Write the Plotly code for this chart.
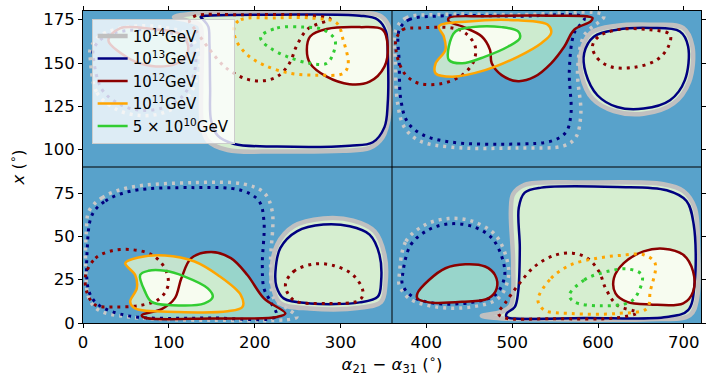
import plotly.graph_objects as go

# ---------------- data (degrees) ----------------
# top-left panel
TL_GRAY_X = [106, 125, 145, 226, 330, 347, 357, 359, 357, 349, 334, 303, 226, 168.5, 145.4, 138.5, 137.7, 138.5, 136, 122]
TL_GRAY_Y = [176.5, 178.3, 178.7, 178.9, 178.9, 177, 170.2, 145.9, 120.7, 107.2, 101, 99.4, 99, 99.8, 105.2, 114.9, 136.2, 165.3, 172, 174.5]
TL_NAVY_X = [145.4, 226, 322.3, 343.5, 353, 355, 355, 351.2, 337.7, 310.8, 226.2, 176.2, 157, 149.2, 148.1, 147.3, 146, 140, 137]
TL_NAVY_Y = [177.3, 177.9, 177.3, 175, 168.2, 155.6, 126.6, 113, 104.3, 102.3, 101.8, 103.3, 108.1, 116.9, 136.2, 161.4, 171, 175, 176.5]
TL_RED_R_X = [260.8, 264.6, 283.9, 322.3, 349.2, 355, 351.2, 333.9, 310.5, 283.9, 264.6]
TL_RED_R_Y = [157.6, 165.3, 169.6, 170.7, 169.2, 159.5, 147.9, 139.2, 137.8, 142.1, 149.8]
TL_RED_L_X = [29.6, 43, 62, 85, 108, 120, 122, 112, 82, 43]
TL_RED_L_Y = [163, 156, 150.5, 148, 149.5, 154, 161, 167, 169.5, 170]
TL_GRAY_DOT_X = [8.5, 16.2, 39.3, 66.2, 93.1, 120, 133.5, 135.4, 123.9, 93.1, 50.8, 20, 8.5]
TL_GRAY_DOT_Y = [152.3, 132.9, 123.2, 119.7, 121.2, 129, 142.6, 154.2, 165.8, 170.7, 170.7, 165.8, 158.1]
TL_NAVY_DOT_X = [12.3, 22, 43.1, 66.2, 93.1, 116.2, 129.6, 130.8, 120, 93.1, 50.8, 23.9, 12.3]
TL_NAVY_DOT_Y = [152.3, 134.8, 126.1, 122.8, 124.2, 130.9, 144.5, 154.2, 163.9, 168.1, 168.7, 164.8, 158.1]
TL_RED_DOT_X = [124, 131.6, 147, 166.2, 189, 210, 227.7, 241, 249, 262, 288, 262, 185, 131.6]
TL_RED_DOT_Y = [174.5, 168.7, 158.1, 147.4, 141, 139.7, 142.6, 150.3, 160, 169.7, 175.5, 177.5, 177.8, 177.3]
TL_ORANGE_DOT_X = [176.2, 183.9, 226, 264.6, 295.4, 303.1, 308.9, 303.1, 272.3, 241.6, 210.8, 191.5, 178.1]
TL_ORANGE_DOT_Y = [171.1, 175, 176, 176, 173.1, 163.4, 148.9, 144, 143, 144, 148.8, 154.7, 163.4]
TL_GREEN_DOT_X = [206.9, 226.2, 256.9, 280, 293.5, 291.6, 283.9, 264.6, 237.7, 218.5, 208.9]
TL_GREEN_DOT_Y = [165.3, 170.2, 170.7, 169.2, 163.4, 155.6, 149.8, 149.8, 153.7, 158.5, 162.4]

# top-right panel
TR_GRAY_DOT_X = [364.6, 376.2, 410.8, 507, 606.9, 584, 576.2, 580, 574.2, 560.8, 507, 430, 391.6, 374.3, 366.6, 363.9]
TR_GRAY_DOT_Y = [169.2, 176, 177.9, 177.9, 177.3, 166, 145.9, 120.7, 107.2, 102.3, 101, 101.4, 105.2, 113, 126.6, 149.8]
TR_NAVY_DOT_X = [368.5, 380, 410.8, 507, 583.9, 572.3, 566.6, 568.5, 562.7, 545.4, 507, 430, 395.4, 378.1, 370.4, 368.5]
TR_NAVY_DOT_Y = [169.2, 175, 177, 177, 176, 167.3, 145.9, 120.7, 110.1, 104.9, 103.3, 104.3, 108.7, 115.9, 128.5, 149.8]
TR_RED_DOT_X = [364.6, 372.3, 391.6, 430, 445.4, 457, 455, 441.6, 418.5, 391.6, 376.2, 368.5, 364.6]
TR_RED_DOT_Y = [163.4, 169.2, 170.2, 170.2, 167.3, 159.5, 150.8, 143, 138.2, 138.2, 143, 149.8, 157.6]
TR_RED_X = [426.2, 468.5, 545.4, 593.5, 591.5, 572.3, 560.8, 545.4, 526.2, 507, 487.7, 476.2, 474.2, 464.6, 441.6, 426.2]
TR_RED_Y = [176, 177, 177.3, 176, 174, 169.2, 159.5, 149.8, 142.1, 139.5, 143, 149.8, 157.6, 165.3, 171.1, 174]
TR_ORANGE_X = [414.6, 449.3, 507, 541.5, 545.4, 533.9, 507, 468.5, 430, 410.8, 410.8, 422.3, 420.4]
TR_ORANGE_Y = [171.1, 174, 174.6, 172.1, 167.3, 161.4, 153.7, 145.9, 142.1, 144, 149.8, 157.6, 165.3]
TR_GREEN_X = [426.2, 433.9, 453.1, 487.7, 507, 508.9, 495.4, 468.5, 441.6, 426.2]
TR_GREEN_Y = [159.5, 168.2, 170.7, 170.7, 168.2, 164.3, 159.5, 153.7, 149.8, 151.8]
TR_NAVY_K_X = [583.9, 595.4, 622.3, 660.8, 695.4, 705, 701.2, 683.9, 653.1, 622.3, 599.3, 585.8]
TR_NAVY_K_Y = [155.6, 165.3, 169.2, 170.2, 168.2, 159.5, 140.1, 128.5, 123.7, 124.6, 131.4, 144]
TR_GRAY_K_X = [580, 591.5, 622.3, 660.8, 699.3, 710, 706.2, 687.7, 653.1, 618.5, 593.5, 580.8]
TR_GRAY_K_Y = [155.6, 167.3, 171.5, 172.1, 170.2, 159.5, 139.2, 126.6, 120.7, 122.3, 129.5, 143]
TR_RED_DOT_K_X = [593.5, 599.3, 614.6, 641.6, 668.5, 682, 683.9, 660.8, 622.3, 600]
TR_RED_DOT_K_Y = [159.5, 152.7, 147.9, 147.5, 151.8, 159.5, 166.3, 169.2, 169.2, 165]

# bottom-left panel
BL_GRAY_DOT_X = [7, 22.3, 53.1, 130, 187.7, 210.8, 220.4, 218.5, 222.3, 237.7, 249.2, 149.2, 53.1, 18.5, 7, 3.1, 3.9]
BL_GRAY_DOT_Y = [64.6, 72.3, 78.1, 81, 80.1, 75.2, 64.6, 33.6, 14.2, 8.4, 3.5, 1.6, 3.5, 7.4, 14.2, 33.6, 53]
BL_NAVY_DOT_X = [10.8, 26.2, 56.9, 130, 183.9, 205, 210.8, 208.9, 210.8, 218.5, 225, 149.2, 53.1, 18.5, 7, 5]
BL_NAVY_DOT_Y = [62.6, 70.4, 76.2, 78.1, 76.6, 70.4, 58.8, 33.6, 20, 12.2, 4, 2.9, 4.1, 10.3, 18.1, 43.3]
BL_RED_DOT_X = [3.1, 14.6, 33.9, 56.9, 80, 95.4, 99.2, 89.6, 68.5, 37.7, 14.6, 5]
BL_RED_DOT_Y = [27.7, 37.4, 41.7, 42.3, 39.4, 31.6, 21.9, 14.2, 10.3, 9.3, 10.3, 17.1]
BL_RED_X = [68.5, 91.6, 106.9, 114.6, 126.2, 149.2, 172.3, 191.5, 210.8, 235.8, 226.2, 149.2, 72.3]
BL_RED_Y = [4.5, 8, 14.2, 25.8, 37.4, 40.9, 37.4, 27.7, 14.2, 5.5, 3.5, 2.6, 3]
BL_ORANGE_X = [49.2, 64.6, 95.4, 130, 157, 183.9, 185.8, 168.5, 110.8, 60.8, 55, 62.7, 60.8]
BL_ORANGE_Y = [34.5, 37.8, 39, 35.5, 27.7, 16.1, 9.3, 6.8, 6.4, 8.4, 12.2, 20, 27.7]
BL_GREEN_X = [66.6, 76.2, 95.4, 118.5, 145.4, 151.2, 141.5, 103.1, 80, 72.3]
BL_GREEN_Y = [27.7, 30.1, 30.1, 26.8, 20, 15.1, 11.3, 10.3, 12.2, 18.1]
BL_NAVY_K_X = [224.2, 230, 249.2, 280, 310.8, 333.9, 345.4, 347.3, 343.5, 322.3, 264.6, 233.8, 225.4]
BL_NAVY_K_Y = [29.7, 43.3, 52.9, 56.8, 55.8, 51, 39.4, 23.9, 15.2, 11.9, 11.3, 14.2, 21]
BL_GRAY_K_X = [219.6, 226.2, 245.4, 280, 314.6, 339.6, 351.2, 352.3, 347.3, 322.3, 264.6, 230, 221.5]
BL_GRAY_K_Y = [29.7, 45.2, 55.8, 60.3, 59.1, 52.9, 39.4, 22, 12.2, 8.8, 8.4, 11.3, 20]
BL_RED_DOT_K_X = [235.8, 245.4, 268.5, 291.6, 314.6, 326.2, 322.3, 284, 245.4]
BL_RED_DOT_K_Y = [21.9, 29.7, 34, 33.2, 27.7, 18.1, 13.2, 11.3, 13.2]

# bottom-right panel
BR_GRAY_X = [464.6, 487.7, 498.5, 501.2, 498.5, 501.2, 514.6, 583.9, 676.2, 699.3, 712.7, 716.5, 715.4, 707, 660.8, 545.4, 487.7]
BR_GRAY_Y = [4.1, 6.4, 10.3, 33.6, 64.6, 74.3, 79.7, 81, 80.1, 76.2, 66.5, 43.3, 14.2, 4.5, 2.2, 2.2, 2.6]
BR_NAVY_X = [493.5, 503.1, 507, 508.9, 507.7, 514.6, 533.9, 622.3, 680, 703.1, 711.5, 712.7, 705, 680, 583.9, 507, 493.5]
BR_NAVY_Y = [5.5, 9.3, 18.1, 43.3, 66.5, 75.2, 78.1, 78.5, 76.6, 70.4, 56.8, 23.9, 7.4, 3.5, 2.9, 2.5, 3.5]
BR_RED_R_X = [618.5, 630, 653.1, 676.2, 699.3, 710.8, 710.8, 699.3, 660.8, 633.9, 620.4]
BR_RED_R_Y = [25.8, 34.5, 41.3, 42.9, 39.4, 29.7, 18.1, 11.3, 10.7, 12.2, 17.1]
BR_RED_L_X = [389.6, 403.1, 422.3, 445.4, 468.5, 480, 482, 472.3, 441.6, 403.1, 389.6]
BR_RED_L_Y = [17.1, 24.8, 31.6, 33.9, 32.6, 27.7, 20, 14.2, 12.2, 11.9, 14.2]
BR_GRAY_DOT_X = [368.5, 376.2, 399.3, 426.2, 453.1, 480, 493.5, 495.4, 483.9, 453.1, 410.8, 380, 368.5]
BR_GRAY_DOT_Y = [27.7, 47.1, 56.8, 60.3, 58.8, 51, 37.4, 25.8, 14.2, 9.3, 9.3, 14.2, 21.9]
BR_NAVY_DOT_X = [372.3, 382, 403.1, 426.2, 453.1, 476.2, 489.6, 490.8, 480, 453.1, 410.8, 383.9, 372.3]
BR_NAVY_DOT_Y = [27.7, 45.2, 53.9, 57.2, 55.8, 49.1, 35.5, 25.8, 16.1, 11.9, 11.3, 15.2, 21.9]
BR_RED_DOT_X = [483.9, 491.6, 507, 526.2, 549.2, 570.4, 587.7, 601.2, 608.9, 622.3, 645.4, 622.3, 545.4, 491.6]
BR_RED_DOT_Y = [5.5, 11.3, 21.9, 32.6, 39, 40.3, 37.4, 29.7, 20, 10.3, 6, 3, 2.5, 2.9]
BR_ORANGE_DOT_X = [530, 545.4, 568.5, 599.3, 626.2, 653.1, 666.5, 660.8, 657, 622.3, 568.5, 537.7]
BR_ORANGE_DOT_Y = [13.2, 25.8, 33.6, 37.4, 39, 39.4, 34.5, 18, 8.4, 5.5, 5.5, 7.4]
BR_GREEN_DOT_X = [566.6, 583.9, 603.1, 633.9, 651.2, 647.3, 637.7, 603.1, 572.3]
BR_GREEN_DOT_Y = [16.1, 24.8, 28.7, 31.2, 27.7, 18, 12.2, 9.9, 12.2]

LEGEND_LABELS = ["10<sup>14</sup>GeV", "10<sup>13</sup>GeV", "10<sup>12</sup>GeV",
                 "10<sup>11</sup>GeV", "5 × 10<sup>10</sup>GeV"]
X_TICKS = [0, 100, 200, 300, 400, 500, 600, 700]
Y_TICKS = [0, 25, 50, 75, 100, 125, 150, 175]
X_RANGE = [0, 720]
Y_RANGE = [0, 180]
DIVIDER_X = 360
DIVIDER_Y = 90

# ---------------- styles ----------------
BG = "rgb(88,162,203)"
LIGHT = "rgb(214,238,208)"
TEAL = "rgb(152,213,203)"
WHITE = "rgb(247,252,240)"
C_GRAY, C_NAVY, C_RED, C_ORANGE, C_GREEN = "#c0c0c0", "#000080", "#8b0000", "#ffa500", "#32cd32"
DOT = "3px,5px"

fig = go.Figure()


def closed(xs, ys):
    return list(xs) + [xs[0]], list(ys) + [ys[0]]


def add_fill(xs, ys, color):
    cx, cy = closed(xs, ys)
    fig.add_trace(go.Scatter(x=cx, y=cy, mode="lines", fill="toself", fillcolor=color,
                             line=dict(width=0, shape="spline", smoothing=1.0),
                             hoverinfo="skip", showlegend=False))


def add_line(xs, ys, color, width, dash="solid", name=None, legend=False):
    cx, cy = closed(xs, ys)
    fig.add_trace(go.Scatter(x=cx, y=cy, mode="lines", name=name,
                             line=dict(color=color, width=width, dash=dash, shape="spline", smoothing=1.0),
                             hoverinfo="skip", showlegend=legend))


# fills
for xs, ys in [(TL_GRAY_X, TL_GRAY_Y), (BR_GRAY_X, BR_GRAY_Y), (TR_GRAY_K_X, TR_GRAY_K_Y), (BL_GRAY_K_X, BL_GRAY_K_Y)]:
    add_fill(xs, ys, LIGHT)
for xs, ys in [(TR_RED_X, TR_RED_Y), (BL_RED_X, BL_RED_Y), (BR_RED_L_X, BR_RED_L_Y), (TL_RED_L_X, TL_RED_L_Y)]:
    add_fill(xs, ys, TEAL)
for xs, ys in [(TR_ORANGE_X, TR_ORANGE_Y), (BL_ORANGE_X, BL_ORANGE_Y)]:
    add_fill(xs, ys, "rgba(214,238,208,0.85)")
for xs, ys in [(TR_GREEN_X, TR_GREEN_Y), (BL_GREEN_X, BL_GREEN_Y), (TL_RED_R_X, TL_RED_R_Y), (BR_RED_R_X, BR_RED_R_Y)]:
    add_fill(xs, ys, WHITE)

# 10^14 GeV
add_line(TL_GRAY_X, TL_GRAY_Y, C_GRAY, 4.5, name=LEGEND_LABELS[0], legend=True)
for xs, ys in [(BR_GRAY_X, BR_GRAY_Y), (TR_GRAY_K_X, TR_GRAY_K_Y), (BL_GRAY_K_X, BL_GRAY_K_Y)]:
    add_line(xs, ys, C_GRAY, 4.5)
for xs, ys in [(TL_GRAY_DOT_X, TL_GRAY_DOT_Y), (TR_GRAY_DOT_X, TR_GRAY_DOT_Y),
               (BL_GRAY_DOT_X, BL_GRAY_DOT_Y), (BR_GRAY_DOT_X, BR_GRAY_DOT_Y)]:
    add_line(xs, ys, "#c8c8c8", 3.5, dash=DOT)
# 10^13 GeV
add_line(TL_NAVY_X, TL_NAVY_Y, C_NAVY, 2.5, name=LEGEND_LABELS[1], legend=True)
for xs, ys in [(BR_NAVY_X, BR_NAVY_Y), (TR_NAVY_K_X, TR_NAVY_K_Y), (BL_NAVY_K_X, BL_NAVY_K_Y)]:
    add_line(xs, ys, C_NAVY, 2.5)
for xs, ys in [(TL_NAVY_DOT_X, TL_NAVY_DOT_Y), (TR_NAVY_DOT_X, TR_NAVY_DOT_Y),
               (BL_NAVY_DOT_X, BL_NAVY_DOT_Y), (BR_NAVY_DOT_X, BR_NAVY_DOT_Y)]:
    add_line(xs, ys, C_NAVY, 3, dash=DOT)
# 10^12 GeV
add_line(TL_RED_R_X, TL_RED_R_Y, C_RED, 2.5, name=LEGEND_LABELS[2], legend=True)
for xs, ys in [(TL_RED_L_X, TL_RED_L_Y), (TR_RED_X, TR_RED_Y), (BL_RED_X, BL_RED_Y),
               (BR_RED_R_X, BR_RED_R_Y), (BR_RED_L_X, BR_RED_L_Y)]:
    add_line(xs, ys, C_RED, 2.5)
for xs, ys in [(TL_RED_DOT_X, TL_RED_DOT_Y), (TR_RED_DOT_X, TR_RED_DOT_Y), (TR_RED_DOT_K_X, TR_RED_DOT_K_Y),
               (BL_RED_DOT_X, BL_RED_DOT_Y), (BL_RED_DOT_K_X, BL_RED_DOT_K_Y), (BR_RED_DOT_X, BR_RED_DOT_Y)]:
    add_line(xs, ys, C_RED, 3, dash=DOT)
# 10^11 GeV
add_line(TR_ORANGE_X, TR_ORANGE_Y, C_ORANGE, 2.5, name=LEGEND_LABELS[3], legend=True)
add_line(BL_ORANGE_X, BL_ORANGE_Y, C_ORANGE, 2.5)
for xs, ys in [(TL_ORANGE_DOT_X, TL_ORANGE_DOT_Y), (BR_ORANGE_DOT_X, BR_ORANGE_DOT_Y)]:
    add_line(xs, ys, C_ORANGE, 3, dash=DOT)
# 5x10^10 GeV
add_line(TR_GREEN_X, TR_GREEN_Y, C_GREEN, 2.5, name=LEGEND_LABELS[4], legend=True)
add_line(BL_GREEN_X, BL_GREEN_Y, C_GREEN, 2.5)
for xs, ys in [(TL_GREEN_DOT_X, TL_GREEN_DOT_Y), (BR_GREEN_DOT_X, BR_GREEN_DOT_Y)]:
    add_line(xs, ys, C_GREEN, 3, dash=DOT)

# dividers
fig.add_shape(type="line", x0=DIVIDER_X, x1=DIVIDER_X, y0=Y_RANGE[0], y1=Y_RANGE[1],
              line=dict(color="black", width=1), layer="above")
fig.add_shape(type="line", x0=X_RANGE[0], x1=X_RANGE[1], y0=DIVIDER_Y, y1=DIVIDER_Y,
              line=dict(color="black", width=1), layer="above")

axis_common = dict(showgrid=False, zeroline=False, showline=True, linecolor="black", linewidth=1,
                   mirror="ticks", ticks="outside", ticklen=4, tickwidth=1, tickcolor="black",
                   tickfont=dict(size=16.5, color="black"))

fig.update_layout(
    width=710, height=380,
    margin=dict(l=83, r=4, t=11, b=57),
    paper_bgcolor="white", plot_bgcolor=BG,
    font=dict(family="DejaVu Sans", size=16, color="black"),
    xaxis=dict(range=X_RANGE, tickvals=X_TICKS,
               title=dict(text="<i>α</i><sub>21</sub> − <i>α</i><sub>31</sub> (<sup>∘</sup>)", standoff=4, font=dict(size=16.5)),
               **axis_common),
    yaxis=dict(range=Y_RANGE, tickvals=Y_TICKS,
               title=dict(text="<i>x</i> (<sup>∘</sup>)", standoff=14, font=dict(size=16.5)),
               **axis_common),
    legend=dict(x=0.014, y=0.975, xanchor="left", yanchor="top", bgcolor="rgba(255,255,255,0.8)",
                bordercolor="#cccccc", borderwidth=1, font=dict(size=15), itemwidth=30, tracegroupgap=0),
)

fig.write_html("out.html")
